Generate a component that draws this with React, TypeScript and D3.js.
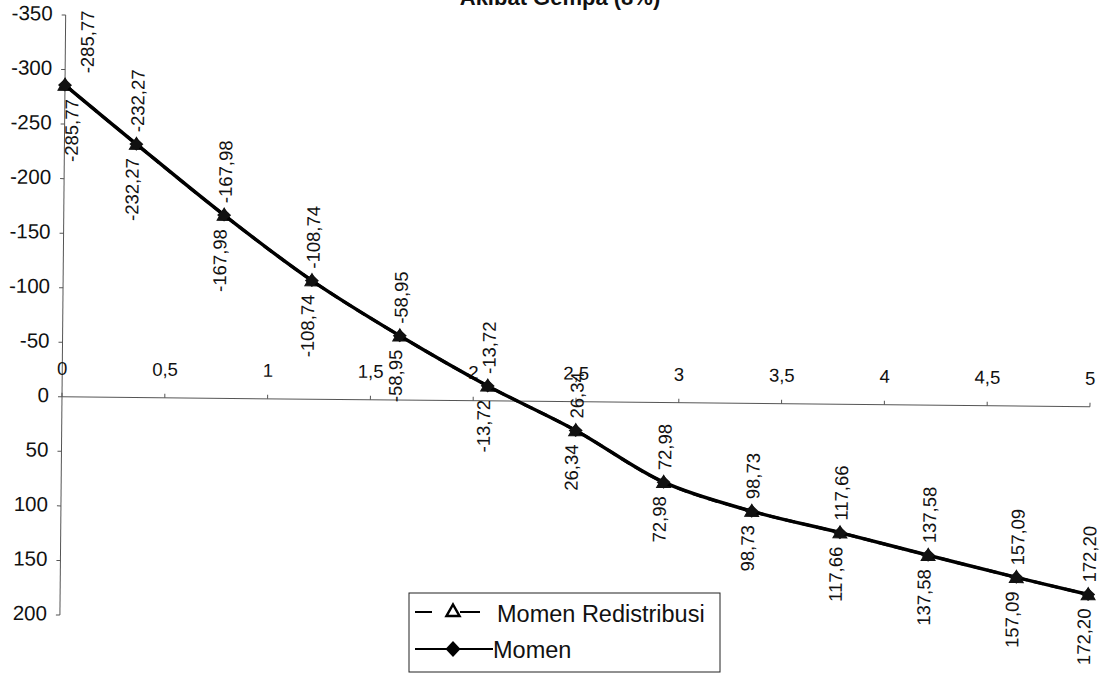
import React from 'react';
import * as d3 from 'd3';

// ---- data ----
const titleText = 'Akibat Gempa (8%)';
const seriesNames = ['Momen Redistribusi', 'Momen'];
const positions = [0, 0.35, 0.78, 1.21, 1.64, 2.07, 2.5, 2.93, 3.36, 3.79, 4.22, 4.65, 5];
const momenRedistribusi = [-285.77, -232.27, -167.98, -108.74, -58.95, -13.72, 26.34, 72.98, 98.73, 117.66, 137.58, 157.09, 172.2];
const momen = [-285.77, -232.27, -167.98, -108.74, -58.95, -13.72, 26.34, 72.98, 98.73, 117.66, 137.58, 157.09, 172.2];
const xTicks = [0, 0.5, 1, 1.5, 2, 2.5, 3, 3.5, 4, 4.5, 5];
const yTicks = [-350, -300, -250, -200, -150, -100, -50, 0, 50, 100, 150, 200];

const W = 1107;
const H = 674;
const FONT = '"Liberation Sans", Arial, Helvetica, sans-serif';

const locale = d3.formatLocale({
  decimal: ',',
  thousands: '.',
  grouping: [3],
  currency: ['', ''],
  minus: '-',
});
const fmt2 = locale.format('.2f');
const fmtTick = locale.format('~g');

export default function App() {
  const x = d3.scaleLinear().domain([0, 5]).range([62, 1090]);
  const y = d3.scaleLinear().domain([-350, 200]).range([15, 615]);
  const y0 = y(0);
  const x0 = x(0);
  const LBL = 18.5;
  const capHalf = 6.5;

  const line = d3
    .line<number>()
    .x((_, i) => x(positions[i]))
    .y((d) => y(d))
    .curve(d3.curveCatmullRom.alpha(0.5));

  const tri = (cx: number, cy: number, s: number) =>
    `M${cx},${cy - s} L${cx + s},${cy + s * 0.75} L${cx - s},${cy + s * 0.75} Z`;
  const dia = (cx: number, cy: number, w: number, h: number) =>
    `M${cx},${cy - h} L${cx + w},${cy} L${cx},${cy + h} L${cx - w},${cy} Z`;

  // label centres: keep labels off the vertical axis
  const lowerCenter = (px: number) => (px - x0 < 10 ? x0 + 7 : px - 4);
  const upperCenter = (px: number) => (px - x0 < 10 ? x0 + 22 : px + 1);

  return (
    <svg
      width={W}
      height={H}
      style={{ position: 'absolute', left: 0, top: 0, display: 'block', background: '#fff' }}
      fontFamily={FONT}
    >
      <rect x={0} y={0} width={W} height={H} fill="#fff" />
      {/* title (cut at top, as in the source) */}
      <text x={560} y={5} textAnchor="middle" fontSize={22} fontWeight="bold" fill="#111">
        {titleText}
      </text>

      <g transform={`rotate(0.55, ${x0}, ${y0})`}>
        {/* y axis */}
        <line x1={x0} x2={x0} y1={y(-350)} y2={y(200)} stroke="#555" strokeWidth={1} />
        {yTicks.map((t) => (
          <g key={'yt' + t}>
            <line x1={x0 - 4} x2={x0} y1={y(t)} y2={y(t)} stroke="#555" strokeWidth={1} />
            <text x={49} y={y(t) + 5.5} textAnchor="end" fontSize={20.5} fill="#111">
              {fmtTick(t)}
            </text>
          </g>
        ))}
        {/* x axis */}
        <line x1={x(0)} x2={x(5)} y1={y0} y2={y0} stroke="#555" strokeWidth={1} />
        {xTicks.map((t) => (
          <g key={'xt' + t}>
            <line x1={x(t)} x2={x(t)} y1={y0 - 4} y2={y0} stroke="#555" strokeWidth={1} />
            <text x={x(t)} y={y0 - 22} textAnchor="middle" fontSize={18.5} fill="#111">
              {fmtTick(t)}
            </text>
          </g>
        ))}

        {/* Momen Redistribusi: dashed line with triangles */}
        <path d={line(momenRedistribusi) || ''} fill="none" stroke="#000" strokeWidth={3} strokeDasharray="10,6" />
        {momenRedistribusi.map((v, i) => (
          <path key={'tr' + i} d={tri(x(positions[i]), y(v), 7)} fill="#111" stroke="#111" strokeWidth={1} />
        ))}
        {/* Momen: solid line with diamonds */}
        <path d={line(momen) || ''} fill="none" stroke="#000" strokeWidth={3.5} />
        {momen.map((v, i) => (
          <path key={'dm' + i} d={dia(x(positions[i]), y(v), 7, 6.5)} fill="#111" />
        ))}

        {/* data labels */}
        {momenRedistribusi.map((v, i) => {
          const ax = upperCenter(x(positions[i])) + capHalf;
          const ay = y(v) - 12;
          return (
            <text
              key={'lu' + i}
              x={ax}
              y={ay}
              fontSize={LBL}
              fill="#111"
              textAnchor="start"
              transform={`rotate(-90, ${ax}, ${ay})`}
            >
              {fmt2(v)}
            </text>
          );
        })}
        {momen.map((v, i) => {
          const ax = lowerCenter(x(positions[i])) + capHalf;
          const ay = y(v) + 14;
          return (
            <text
              key={'ll' + i}
              x={ax}
              y={ay}
              fontSize={LBL}
              fill="#111"
              textAnchor="end"
              transform={`rotate(-90, ${ax}, ${ay})`}
            >
              {fmt2(v)}
            </text>
          );
        })}
      </g>

      {/* legend */}
      <g>
        <rect x={409} y={593} width={311} height={79} fill="#fff" stroke="#222" strokeWidth={1} />
        <line x1={415} x2={480} y1={612} y2={612} stroke="#000" strokeWidth={2} strokeDasharray="17,28,20" />
        <path d={tri(453, 611, 6.5)} fill="#fff" stroke="#000" strokeWidth={2.5} />
        <text x={497} y={622} fontSize={23.5} fill="#111">
          {seriesNames[0]}
        </text>
        <line x1={415} x2={493} y1={649} y2={649} stroke="#000" strokeWidth={2} />
        <path d={dia(453, 649, 7.5, 8)} fill="#000" />
        <text x={493} y={658} fontSize={23.5} fill="#111">
          {seriesNames[1]}
        </text>
      </g>
    </svg>
  );
}
